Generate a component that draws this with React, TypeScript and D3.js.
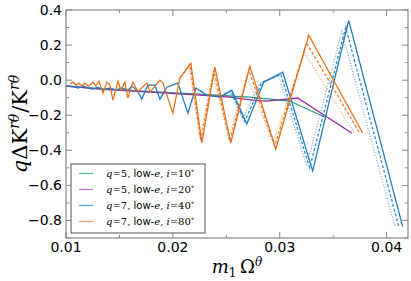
import * as d3 from "d3";

// axis ticks
const xMajor = [0.01, 0.02, 0.03, 0.04];
const xMinor = [0.015, 0.025, 0.035];
const yMajor = [0.4, 0.2, 0.0, -0.2, -0.4, -0.6, -0.8];
const yMinor = [0.3, 0.1, -0.1, -0.3, -0.5, -0.7, -0.9];

// q=5, low-e, i=10°
const green: [number, number][] = [
  [0.01, -0.034], [0.01318, -0.048], [0.01785, -0.065], [0.02252, -0.08],
  [0.0272, -0.097], [0.03093, -0.119], [0.0342, -0.21],
];

// q=5, low-e, i=20°
const purple: [number, number][] = [
  [0.01, -0.034], [0.01318, -0.051], [0.01785, -0.068], [0.02252, -0.085],
  [0.02533, -0.097], [0.02748, -0.114], [0.02879, -0.119], [0.03065, -0.108],
  [0.03168, -0.102], [0.03673, -0.301],
];

// q=7, low-e, i=40°
const blue: [number, number][] = [
  [0.01, -0.034], [0.01056, -0.034], [0.01112, -0.045], [0.01168, -0.034],
  [0.01206, -0.045], [0.01252, -0.051], [0.01299, -0.04], [0.01346, -0.057],
  [0.01411, -0.045], [0.01467, -0.057], [0.01523, -0.045], [0.01579, -0.057],
  [0.01617, -0.034], [0.01664, -0.057], [0.0171, -0.108], [0.01766, -0.028],
  [0.01832, -0.028], [0.01879, -0.108], [0.01944, -0.04], [0.02047, -0.017],
  [0.0214, -0.188], [0.02215, -0.045], [0.02318, -0.085], [0.02439, -0.097],
  [0.02551, -0.057], [0.02692, -0.25], [0.0285, -0.011], [0.03028, 0.045],
  [0.03308, -0.517], [0.03645, 0.341], [0.0415, -0.835],
];
const blueDashed: [number, number][] = [
  [0.02439, -0.097], [0.02542, -0.06], [0.02673, -0.235], [0.02832, -0.013],
  [0.03009, 0.034], [0.0328, -0.5], [0.03617, 0.3], [0.04112, -0.83],
];
const blueDotted: [number, number][] = [
  [0.02439, -0.097], [0.02533, -0.065], [0.02654, -0.22], [0.02813, -0.017],
  [0.0299, 0.023], [0.03252, -0.489], [0.0358, 0.278], [0.04075, -0.83],
];

// q=7, low-e, i=80°
const orange: [number, number][] = [
  [0.01037, -0.023], [0.01065, -0.011], [0.01093, -0.028], [0.01121, -0.017],
  [0.0115, -0.034], [0.01178, -0.017], [0.01206, -0.034], [0.01234, -0.023],
  [0.01252, -0.011], [0.0128, -0.034], [0.01308, -0.006], [0.01346, -0.074],
  [0.01383, -0.011], [0.01411, -0.028], [0.01439, -0.114], [0.01486, -0.006],
  [0.01514, -0.057], [0.01551, -0.011], [0.01579, -0.102], [0.01626, -0.011],
  [0.01673, -0.063], [0.01757, -0.017], [0.01785, -0.068], [0.01879, 0.0],
  [0.01907, -0.017], [0.02, -0.188], [0.02065, 0.011], [0.02168, 0.097],
  [0.02271, -0.358], [0.02393, 0.074], [0.02542, -0.358], [0.0272, 0.08],
  [0.02963, -0.392], [0.03271, 0.256], [0.03776, -0.301],
];
const orangeDashed: [number, number][] = [
  [0.02065, 0.011], [0.02159, 0.09], [0.02262, -0.347], [0.02383, 0.057],
  [0.02533, -0.347], [0.02711, 0.057], [0.02953, -0.375], [0.03252, 0.21],
  [0.03748, -0.301],
];
const orangeDotted: [number, number][] = [
  [0.02065, 0.011], [0.0215, 0.08], [0.02252, -0.33], [0.02374, 0.034],
  [0.02523, -0.33], [0.02692, 0.023], [0.02935, -0.352], [0.03234, 0.153],
  [0.03701, -0.307],
];

const legendLabels = ["5", "5", "7", "7"];
const legendAngles = ["10", "20", "40", "80"];
const colors = ["#1f9e7a", "#962aa6", "#1f7ec2", "#e5711c"];
const legendColors = ["#5cc7a6", "#c77ad0", "#4aa8e6", "#f5a05c"];

const W = 411;
const H = 281;
const left = 66, right = 408, top = 10, bottom = 238;

export default function App() {
  const x = d3.scaleLinear().domain([0.01, 0.042]).range([left, right]);
  const y = d3.scaleLinear().domain([-0.9, 0.4]).range([bottom, top]);
  const line = d3.line<[number, number]>().x(d => x(d[0])).y(d => y(d[1]));
  const tickColor = "#888";
  const fmtX = d3.format(".2f");
  const fmtY = (v: number) => (v < 0 ? "\u2212" : "") + d3.format(".1f")(Math.abs(v));

  const series = [
    { d: green, c: colors[0], dash: null, op: 1 },
    { d: purple, c: colors[1], dash: null, op: 1 },
    { d: blueDotted, c: colors[2], dash: "1.2,1.6", op: 0.55 },
    { d: blueDashed, c: colors[2], dash: "3,2", op: 0.9 },
    { d: blue, c: colors[2], dash: null, op: 1 },
    { d: orangeDotted, c: colors[3], dash: "1.2,1.6", op: 0.55 },
    { d: orangeDashed, c: colors[3], dash: "3,2", op: 0.9 },
    { d: orange, c: colors[3], dash: null, op: 1 },
  ];

  return (
    <svg width={W} height={H} style={{ position: "absolute", left: 0, top: 0, background: "#fff" }}>
      {/* data */}
      <g>
        {series.map((s, i) => (
          <path key={i} d={line(s.d) || ""} fill="none" stroke={s.c}
            strokeWidth={1.3} strokeOpacity={s.op}
            strokeDasharray={s.dash || undefined} />
        ))}
      </g>

      {/* ticks */}
      <g stroke={tickColor} strokeWidth={1}>
        {xMajor.map(v => (
          <g key={"xm" + v}>
            <line x1={x(v)} x2={x(v)} y1={bottom} y2={bottom - 6} />
            <line x1={x(v)} x2={x(v)} y1={top} y2={top + 6} />
          </g>
        ))}
        {xMinor.map(v => (
          <g key={"xn" + v}>
            <line x1={x(v)} x2={x(v)} y1={bottom} y2={bottom - 3} />
            <line x1={x(v)} x2={x(v)} y1={top} y2={top + 3} />
          </g>
        ))}
        {yMajor.map(v => (
          <g key={"ym" + v}>
            <line x1={left} x2={left + 6} y1={y(v)} y2={y(v)} />
            <line x1={right} x2={right - 6} y1={y(v)} y2={y(v)} />
          </g>
        ))}
        {yMinor.map(v => (
          <g key={"yn" + v}>
            <line x1={left} x2={left + 3} y1={y(v)} y2={y(v)} />
            <line x1={right} x2={right - 3} y1={y(v)} y2={y(v)} />
          </g>
        ))}
      </g>
      <rect x={left} y={top} width={right - left} height={bottom - top}
        fill="none" stroke={tickColor} strokeWidth={1.2} />

      {/* tick labels */}
      <g fontFamily="DejaVu Sans" fontSize={14} fill="#000">
        {xMajor.map(v => (
          <text key={"xl" + v} x={x(v)} y={252} textAnchor="middle">{fmtX(v)}</text>
        ))}
        {yMajor.map(v => (
          <text key={"yl" + v} x={62} y={y(v) + 5} textAnchor="end">{fmtY(v)}</text>
        ))}
      </g>

      {/* axis labels */}
      <text x={237} y={273} textAnchor="middle" fontFamily="DejaVu Serif" fontSize={18}>
        <tspan fontStyle="italic">m</tspan>
        <tspan fontSize={12} dy={4}>1</tspan>
        <tspan dy={-4}>{"\u2009\u03A9"}</tspan>
        <tspan fontSize={12} fontStyle="italic" dy={-7}>θ</tspan>
      </text>
      <text transform="translate(27,124) rotate(-90)" textAnchor="middle"
        fontFamily="DejaVu Serif" fontSize={21}>
        <tspan fontStyle="italic">q</tspan>
        <tspan>Δ</tspan>
        <tspan>K</tspan>
        <tspan fontSize={14} fontStyle="italic" dy={-8}>rθ</tspan>
        <tspan dy={8} dx={1}>/</tspan>
        <tspan>K</tspan>
        <tspan fontSize={14} fontStyle="italic" dy={-8}>rθ</tspan>
      </text>

      {/* legend */}
      <g>
        <rect x={71} y={164} width={134} height={69} fill="#fff" stroke="#555" strokeWidth={1} />
        {legendLabels.map((q, i) => {
          const ly = 173.5 + i * 16;
          return (
            <g key={"lg" + i}>
              <line x1={79} x2={93} y1={ly} y2={ly} stroke={legendColors[i]} strokeWidth={1.3} />
              <text x={106} y={ly + 3.5} fontSize={10} fontFamily="DejaVu Serif">
                <tspan fontStyle="italic">q</tspan>
                <tspan>{"=" + q + ","}</tspan>
                <tspan fontFamily="DejaVu Sans">{" low-"}</tspan>
                <tspan fontStyle="italic">e</tspan>
                <tspan>{", "}</tspan>
                <tspan fontStyle="italic">i</tspan>
                <tspan>{"=" + legendAngles[i]}</tspan>
                <tspan fontSize={7} dy={-4}>∘</tspan>
              </text>
            </g>
          );
        })}
      </g>
    </svg>
  );
}
